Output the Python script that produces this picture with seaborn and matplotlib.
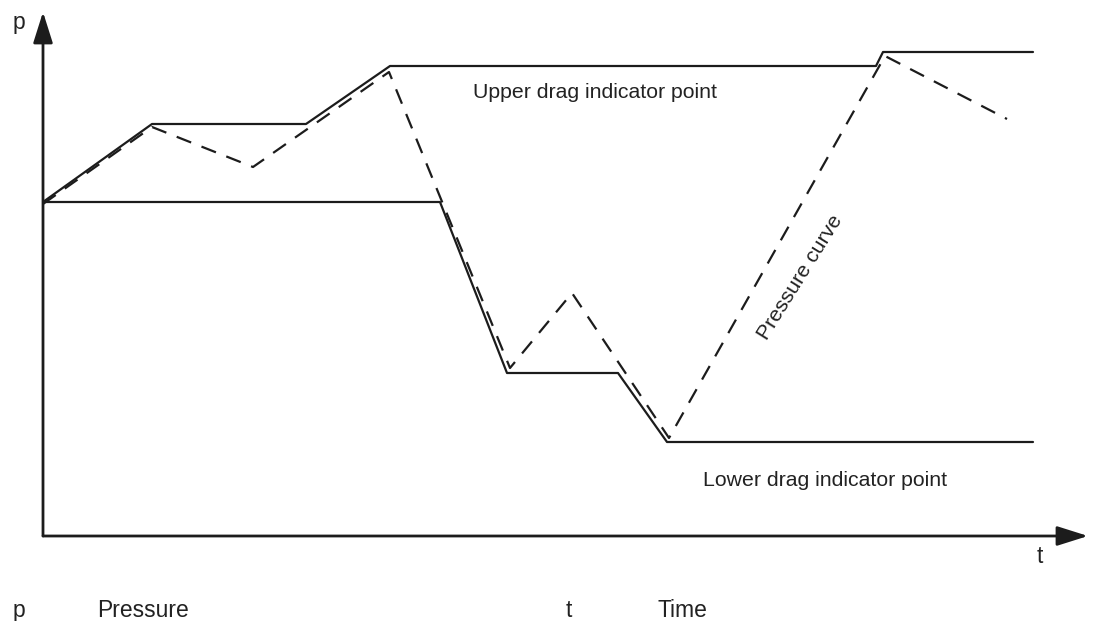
import numpy as np
import pandas as pd
import matplotlib
matplotlib.use('Agg')
import matplotlib.pyplot as plt
import seaborn as sns

# valores (t e p em unidades arbitrarias)
upper_t = [0, 10.9, 26.3, 34.7, 83.3, 84.0, 99.0]
upper_p = [33.4, 41.2, 41.2, 47.0, 47.0, 48.4, 48.4]

lower_t = [0, 39.7, 46.4, 57.5, 62.4, 99.0]
lower_p = [33.4, 33.4, 16.3, 16.3, 9.4, 9.4]

pressure_t = [0, 10.9, 21.0, 34.6, 46.7, 52.9, 62.6, 84.2, 96.4]
pressure_p = [33.2, 40.9, 36.9, 46.4, 16.8, 24.3, 9.8, 48.0, 41.7]

legend_symbols = ['p', 't']
legend_names = ['Pressure', 'Time']

sns.set_theme(style='white')
plt.rcParams['font.family'] = ['Liberation Sans', 'DejaVu Sans']

W, H = 1095, 621
fig = plt.figure(figsize=(W / 100, H / 100), dpi=100)
ax = fig.add_axes([43 / W, 85 / H, 1045 / W, 524 / H])
ax.set_xlim(0, 104.5)
ax.set_ylim(0, 52.4)

ink = '#1c1c1c'

# limites de arraste (linhas cheias) e curva de pressao (tracejada)
sns.lineplot(x=upper_t, y=upper_p, sort=False, estimator=None, ax=ax, color=ink, lw=1.6)
sns.lineplot(x=lower_t, y=lower_p, sort=False, estimator=None, ax=ax, color=ink, lw=1.6)
sns.lineplot(x=pressure_t, y=pressure_p, sort=False, estimator=None, ax=ax, color=ink, lw=1.6,
             dashes=False)
ax.lines[-1].set_dashes((7, 5))

ax.set_xticks([])
ax.set_yticks([])
ax.set_xlabel('')
ax.set_ylabel('')
sns.despine(ax=ax, left=True, bottom=True)

# eixos com setas
arrow = dict(arrowstyle='-|>,head_length=1.9,head_width=0.6', mutation_scale=10,
             lw=2.0, color=ink, shrinkA=0, shrinkB=0)
ax.annotate('', xy=(1, 0), xytext=(0, 0), xycoords='axes fraction', arrowprops=arrow)
ax.annotate('', xy=(0, 1), xytext=(0, 0), xycoords='axes fraction', arrowprops=arrow)

txt = '#222222'
ax.text(43.0, 44.4, 'Upper drag indicator point', fontsize=15.3, color=txt, ha='left', va='center')
ax.text(66.0, 5.6, 'Lower drag indicator point', fontsize=15.3, color=txt, ha='left', va='center')
ax.text(75.7, 25.9, 'Pressure curve', fontsize=15.3, color=txt, rotation=58,
        ha='center', va='center', rotation_mode='anchor')

# rotulos dos eixos
fig.text(13 / W, 1 - 29 / H, legend_symbols[0], fontsize=16.5, color=txt, ha='left', va='baseline')
fig.text(1037 / W, 1 - 563 / H, legend_symbols[1], fontsize=16.5, color=txt, ha='left', va='baseline')

# legenda de simbolos embaixo
for sym, name, xs, xn in zip(legend_symbols, legend_names, [13, 566], [97, 658]):
    fig.text(xs / W, 1 - 617 / H, sym, fontsize=16.5, color=txt, ha='left', va='baseline')
    fig.text(xn / W, 1 - 617 / H, name, fontsize=16.5, color=txt, ha='left', va='baseline')

fig.savefig('out.png', dpi=100, facecolor='white')
